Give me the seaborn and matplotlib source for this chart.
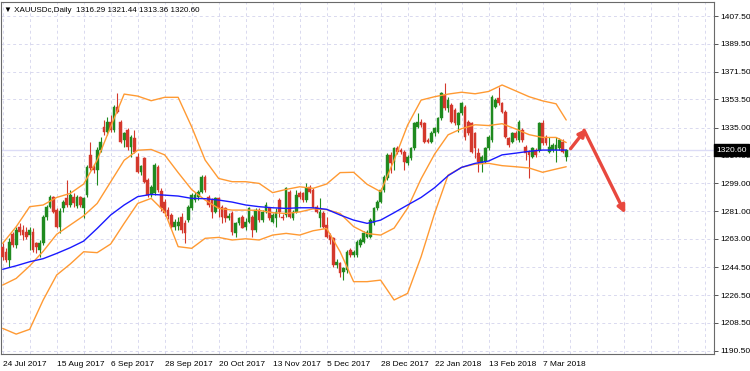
import matplotlib
matplotlib.use("Agg")
import matplotlib.pyplot as plt
import matplotlib.transforms as mtransforms
import numpy as np
import pandas as pd
import seaborn as sns

# daily XAUUSD candles, 24 Jul 2017 .. 16 Mar 2018 (no bars on 25 Dec / 1 Jan)
opens = [
    1258.0, 1254.7, 1249.3, 1266.2, 1259.0, 1270.9, 1268.8, 1267.7, 1265.5, 1267.7,
    1260.1, 1255.8, 1260.1, 1277.0, 1283.9, 1289.9, 1281.7, 1271.0, 1282.8, 1289.3,
    1285.0, 1290.4, 1284.3, 1290.0, 1282.8, 1291.4, 1317.4, 1309.4, 1307.7, 1320.6,
    1335.7, 1332.5, 1339.0, 1333.6, 1348.7, 1339.0, 1327.1, 1333.6, 1322.8, 1328.2,
    1316.3, 1306.6, 1315.2, 1301.2, 1291.4, 1292.5, 1309.8, 1294.0, 1287.0, 1282.0,
    1278.5, 1270.9, 1271.5, 1277.4, 1273.1, 1275.2, 1282.8, 1288.2, 1290.4, 1293.6,
    1303.3, 1290.4, 1288.2, 1280.6, 1289.3, 1283.9, 1282.8, 1276.3, 1280.0, 1266.6,
    1273.1, 1277.4, 1270.9, 1274.2, 1277.4, 1268.8, 1281.7, 1275.2, 1280.7, 1282.8,
    1274.2, 1276.3, 1288.2, 1277.4, 1278.5, 1293.6, 1276.8, 1280.7, 1292.5, 1292.5,
    1288.2, 1296.8, 1294.7, 1283.9, 1276.3, 1279.6, 1272.0, 1265.5, 1263.4, 1246.1,
    1247.1, 1241.7, 1242.8, 1255.8, 1252.5, 1252.5, 1259.0, 1261.2, 1264.4, 1264.4,
    1273.1, 1282.8, 1287.1, 1294.7, 1302.2, 1317.4, 1313.1, 1321.7, 1320.6, 1319.5,
    1312.0, 1315.2, 1321.7, 1335.7, 1339.0, 1337.9, 1327.1, 1326.0, 1331.4, 1332.5,
    1341.2, 1356.3, 1347.6, 1349.8, 1346.6, 1336.8, 1344.4, 1348.7, 1339.0, 1337.9,
    1331.4, 1318.5, 1312.0, 1313.1, 1321.7, 1327.0, 1348.7, 1354.1, 1350.9, 1345.5,
    1328.2, 1326.0, 1331.4, 1327.1, 1333.6, 1322.8, 1319.5, 1316.3, 1320.6, 1320.6,
    1337.9, 1329.3, 1319.5, 1320.6, 1320.6, 1321.7, 1326.0, 1316.29,
]
highs = [
    1260.1, 1256.9, 1263.4, 1267.5, 1270.9, 1273.1, 1272.0, 1270.9, 1270.9, 1269.8,
    1261.2, 1262.3, 1278.5, 1285.0, 1291.4, 1290.8, 1282.8, 1283.0, 1288.2, 1301.2,
    1294.7, 1292.5, 1291.4, 1291.0, 1290.4, 1310.9, 1326.0, 1311.5, 1322.8, 1328.8,
    1340.1, 1342.2, 1343.3, 1349.8, 1357.4, 1340.1, 1332.5, 1334.6, 1330.3, 1333.6,
    1318.5, 1310.9, 1316.3, 1302.2, 1297.9, 1312.0, 1310.9, 1296.0, 1289.0, 1284.0,
    1279.6, 1276.0, 1277.4, 1279.6, 1275.2, 1285.0, 1292.5, 1293.6, 1295.0, 1304.4,
    1304.4, 1291.4, 1289.3, 1290.4, 1290.4, 1285.0, 1284.0, 1279.6, 1281.0, 1274.2,
    1277.4, 1278.5, 1276.3, 1283.9, 1278.5, 1282.8, 1283.0, 1282.0, 1287.1, 1284.0,
    1279.6, 1282.8, 1289.3, 1279.0, 1296.8, 1294.7, 1282.0, 1294.7, 1294.0, 1293.6,
    1299.0, 1298.0, 1295.8, 1285.0, 1289.3, 1281.0, 1277.4, 1266.6, 1264.4, 1250.0,
    1248.2, 1245.0, 1256.0, 1257.0, 1256.0, 1262.3, 1263.4, 1268.0, 1269.0, 1276.3,
    1283.9, 1288.2, 1295.8, 1304.4, 1318.5, 1319.5, 1322.8, 1323.0, 1322.0, 1320.6,
    1317.5, 1322.8, 1339.0, 1344.4, 1341.0, 1339.0, 1328.5, 1333.0, 1335.8, 1342.2,
    1358.4, 1363.8, 1355.0, 1351.0, 1348.0, 1345.5, 1352.0, 1349.8, 1340.1, 1339.0,
    1332.5, 1321.7, 1317.4, 1322.8, 1330.3, 1356.3, 1354.1, 1361.7, 1352.0, 1346.6,
    1329.3, 1332.5, 1333.0, 1340.1, 1334.6, 1323.9, 1320.6, 1322.8, 1321.7, 1339.0,
    1340.1, 1330.3, 1329.3, 1325.0, 1329.3, 1328.2, 1328.0, 1321.44,
]
lows = [
    1249.3, 1248.2, 1245.0, 1257.5, 1256.9, 1265.5, 1262.3, 1263.0, 1255.8, 1254.7,
    1253.6, 1251.5, 1259.0, 1275.2, 1282.8, 1279.6, 1269.8, 1267.0, 1280.6, 1283.9,
    1283.9, 1284.0, 1282.8, 1283.5, 1276.3, 1290.4, 1307.7, 1306.0, 1297.9, 1319.5,
    1330.3, 1330.3, 1332.5, 1332.5, 1344.4, 1324.9, 1322.8, 1320.6, 1316.3, 1318.5,
    1305.5, 1304.4, 1299.0, 1290.4, 1290.4, 1291.4, 1293.6, 1281.0, 1278.0, 1276.0,
    1269.8, 1269.0, 1268.8, 1266.6, 1260.1, 1274.2, 1281.7, 1287.1, 1288.5, 1292.5,
    1293.6, 1283.9, 1276.3, 1279.6, 1277.4, 1273.1, 1274.2, 1275.0, 1265.5, 1264.4,
    1272.0, 1269.8, 1268.8, 1273.1, 1264.4, 1267.7, 1274.0, 1274.2, 1279.6, 1275.2,
    1273.1, 1270.9, 1277.4, 1275.0, 1277.4, 1276.3, 1275.5, 1279.6, 1289.0, 1287.1,
    1287.1, 1292.5, 1282.8, 1279.6, 1270.9, 1269.8, 1263.4, 1260.0, 1245.0, 1244.0,
    1238.5, 1236.3, 1241.0, 1251.0, 1251.0, 1251.5, 1258.0, 1260.1, 1263.4, 1263.4,
    1272.0, 1281.7, 1286.0, 1293.6, 1301.2, 1305.5, 1307.7, 1318.0, 1318.0, 1307.7,
    1310.9, 1314.0, 1320.6, 1334.6, 1335.5, 1324.9, 1325.0, 1324.9, 1330.0, 1331.4,
    1340.1, 1346.6, 1345.5, 1338.0, 1336.8, 1332.5, 1343.3, 1327.1, 1330.3, 1319.0,
    1315.2, 1306.6, 1306.6, 1312.0, 1320.6, 1326.0, 1347.6, 1349.8, 1344.4, 1328.2,
    1322.8, 1325.0, 1327.0, 1326.0, 1326.0, 1314.1, 1302.3, 1315.2, 1316.3, 1319.5,
    1323.9, 1323.9, 1318.5, 1319.5, 1313.1, 1320.6, 1318.5, 1313.36,
]
closes = [
    1251.5, 1249.3, 1261.2, 1259.0, 1268.8, 1267.7, 1265.5, 1264.4, 1268.8, 1255.8,
    1258.0, 1260.1, 1277.4, 1283.9, 1290.4, 1280.6, 1270.9, 1281.0, 1287.1, 1285.0,
    1291.4, 1286.0, 1290.4, 1285.0, 1289.3, 1309.4, 1308.7, 1307.7, 1320.6, 1326.0,
    1332.5, 1339.0, 1333.6, 1348.7, 1345.5, 1326.0, 1331.4, 1322.8, 1329.3, 1319.5,
    1306.6, 1310.3, 1300.1, 1291.4, 1296.8, 1310.9, 1294.7, 1283.0, 1280.0, 1278.0,
    1270.9, 1274.2, 1274.2, 1268.8, 1266.6, 1283.9, 1291.4, 1291.4, 1293.6, 1303.3,
    1294.7, 1285.0, 1280.6, 1289.3, 1282.8, 1277.4, 1276.3, 1277.8, 1267.7, 1273.1,
    1276.3, 1270.4, 1274.2, 1282.8, 1268.8, 1281.7, 1275.2, 1280.7, 1285.0, 1276.3,
    1278.5, 1280.7, 1280.7, 1276.3, 1295.8, 1277.4, 1280.7, 1291.5, 1290.4, 1288.2,
    1295.8, 1293.6, 1283.9, 1280.7, 1280.7, 1270.9, 1264.4, 1262.3, 1246.1, 1248.2,
    1240.7, 1243.9, 1254.7, 1252.5, 1254.7, 1261.2, 1262.3, 1266.6, 1267.7, 1275.2,
    1282.8, 1287.1, 1294.7, 1303.3, 1317.4, 1312.0, 1321.7, 1319.5, 1319.5, 1313.1,
    1316.3, 1321.7, 1337.9, 1339.0, 1336.8, 1326.0, 1326.0, 1331.4, 1334.7, 1341.2,
    1357.4, 1347.6, 1353.0, 1339.0, 1337.9, 1344.4, 1350.9, 1329.3, 1331.4, 1319.5,
    1321.7, 1313.1, 1316.3, 1321.7, 1329.3, 1355.2, 1353.0, 1350.9, 1345.5, 1329.3,
    1323.9, 1331.4, 1328.2, 1339.0, 1327.1, 1318.5, 1317.4, 1321.7, 1317.4, 1337.9,
    1324.9, 1324.9, 1322.8, 1323.9, 1323.9, 1327.1, 1319.5, 1320.60,
]

# indicator lines read every 4th bar
band_idx = list(range(0, 165, 4)) + [167]
bb_upper = [
    1260.1, 1270.9, 1283.9, 1285.0, 1289.9, 1292.5, 1298.6, 1314.1, 1335.7, 1356.9,
    1355.6, 1352.6, 1354.8, 1354.8, 1335.7, 1314.1, 1302.2, 1300.1, 1300.1, 1299.0,
    1293.0, 1295.1, 1296.8, 1295.8, 1298.6, 1306.0, 1306.2, 1298.4, 1293.6, 1314.1,
    1336.8, 1353.0, 1355.2, 1356.9, 1358.1, 1357.1, 1358.6, 1362.8, 1359.0, 1355.2,
    1352.5, 1350.6, 1340.1,
]
bb_middle = [
    1233.1, 1237.4, 1245.5, 1255.0, 1266.0, 1272.0, 1278.0, 1286.0, 1300.0, 1314.0,
    1320.5, 1321.0, 1317.5, 1306.0, 1295.0, 1288.2, 1282.8, 1281.7, 1281.7, 1281.5,
    1280.0, 1279.5, 1280.5, 1282.5, 1282.0, 1279.5, 1271.0, 1266.5, 1265.5, 1270.0,
    1283.0, 1302.0, 1318.0, 1330.5, 1334.5, 1337.0, 1336.5, 1337.7, 1334.3, 1330.6,
    1328.8, 1328.8, 1325.5,
]
bb_lower = [
    1205.0, 1201.3, 1204.4, 1223.4, 1239.6, 1246.7, 1254.7, 1254.1, 1259.7, 1273.1,
    1286.0, 1289.3, 1280.6, 1258.0, 1256.9, 1263.4, 1264.0, 1262.3, 1263.1, 1262.3,
    1265.5, 1266.6, 1265.5, 1268.3, 1269.8, 1254.7, 1235.3, 1235.3, 1236.3, 1223.4,
    1227.7, 1251.5, 1279.6, 1304.4, 1309.4, 1311.5, 1312.0, 1310.5, 1309.8, 1309.0,
    1306.2, 1308.3, 1309.8,
]
ma_blue = [
    1243.3, 1245.6, 1248.2, 1250.2, 1253.6, 1257.3, 1261.6, 1269.8, 1278.5, 1285.0,
    1290.4, 1291.9, 1291.4, 1290.8, 1289.3, 1289.1, 1288.2, 1286.9, 1285.0, 1283.9,
    1283.2, 1282.8, 1283.2, 1283.2, 1282.2, 1278.5, 1275.2, 1273.1, 1275.2, 1280.0,
    1285.0, 1289.9, 1296.2, 1304.0, 1309.4, 1312.0, 1313.5, 1317.5, 1318.6, 1319.8,
    1320.6, 1320.6, 1320.6,
]

price_ticks = [1407.5, 1389.5, 1371.5, 1353.5, 1335.0, 1317.0, 1299.0,
               1281.0, 1263.0, 1244.5, 1226.5, 1208.5, 1190.5]
last_price = 1320.60
header = "\u25bc XAUUSDc,Daily  1316.29 1321.44 1313.36 1320.60"

dates = pd.bdate_range("2017-07-24", "2018-03-16")
dates = dates[~dates.isin(pd.to_datetime(["2017-12-25", "2018-01-01"]))]

sns.set_style("white")
plt.rcParams["font.family"] = ["Liberation Sans", "DejaVu Sans"]

green = "#1f8a1f"
red = "#d4382c"
orange = "#ff9a33"
grid_c = "#d9d9ef"

fig = plt.figure(figsize=(7.5, 3.71), dpi=100)
ax = fig.add_axes([1 / 750, 17 / 371, 713 / 750, 352 / 371])

# grid
for gx in range(0, 211, 8):
    ax.axvline(gx, color=grid_c, lw=0.7, ls=(0, (3, 3)), zorder=0)
for p in price_ticks:
    ax.axhline(p, color=grid_c, lw=0.7, ls=(0, (3, 3)), zorder=0)
ax.axhline(last_price, color="#dcdcf6", lw=1.0, zorder=0.5)

# candles
x = np.arange(len(opens))
o = np.array(opens)
h = np.array(highs)
l = np.array(lows)
c = np.array(closes)
up = c >= o
for mask, col in [(up, green), (~up, red)]:
    ax.vlines(x[mask], l[mask], h[mask], color=col, lw=0.8, zorder=3)
    body = np.maximum(np.abs(c[mask] - o[mask]), 0.6)
    ax.bar(x[mask], body, bottom=np.minimum(o[mask], c[mask]), width=0.8,
           color=col, edgecolor=col, lw=0.3, zorder=3)

# indicators
for series, col in [(bb_upper, orange), (bb_middle, orange),
                    (bb_lower, orange), (ma_blue, "#1a1aff")]:
    sns.lineplot(x=band_idx, y=series, ax=ax, color=col, lw=1.0, zorder=4)

# forecast arrows
arrow_c = "#e8483e"
ax.annotate("", xy=(173.0, 1334.5), xytext=(168.3, 1321.5),
            arrowprops=dict(arrowstyle="-|>", color=arrow_c, lw=2.4,
                            mutation_scale=11, shrinkA=0, shrinkB=0), zorder=6)
ax.annotate("", xy=(184.5, 1279.5), xytext=(172.3, 1333.5),
            arrowprops=dict(arrowstyle="-|>", color=arrow_c, lw=2.4,
                            mutation_scale=11, shrinkA=0, shrinkB=0), zorder=6)

ax.set_xlim(-0.5, 210.8)
ax.set_ylim(1188.4, 1416.6)

# axes, ticks
for s in ax.spines.values():
    s.set_color("#6a6a6a")
    s.set_linewidth(0.8)
ax.yaxis.tick_right()
ax.set_yticks(price_ticks)
ax.set_yticklabels([f"{p:.2f}" for p in price_ticks])
tick_pos = list(range(0, 161, 16))
ax.set_xticks(tick_pos)
ax.set_xticklabels([f"{dates[i].day} {dates[i]:%b %Y}" for i in tick_pos], ha="left")
ax.tick_params(axis="both", length=3, width=0.7, color="#555555", labelsize=6,
               labelcolor="black", pad=1.5)
ax.tick_params(axis="x", pad=2)
ax.set_xlabel("")
ax.set_ylabel("")

ax.text(0.004, 0.985, header, transform=ax.transAxes, va="top", ha="left",
        fontsize=5.8, color="black", zorder=7)

trans = mtransforms.blended_transform_factory(ax.transAxes, ax.transData)
ax.text(1.003, last_price, f"{last_price:.2f}", transform=trans, va="center",
        ha="left", fontsize=6, color="white", clip_on=False, zorder=10,
        bbox=dict(boxstyle="square,pad=0.25", facecolor="black", edgecolor="black"))

fig.savefig("out.png", dpi=100, facecolor="white")
